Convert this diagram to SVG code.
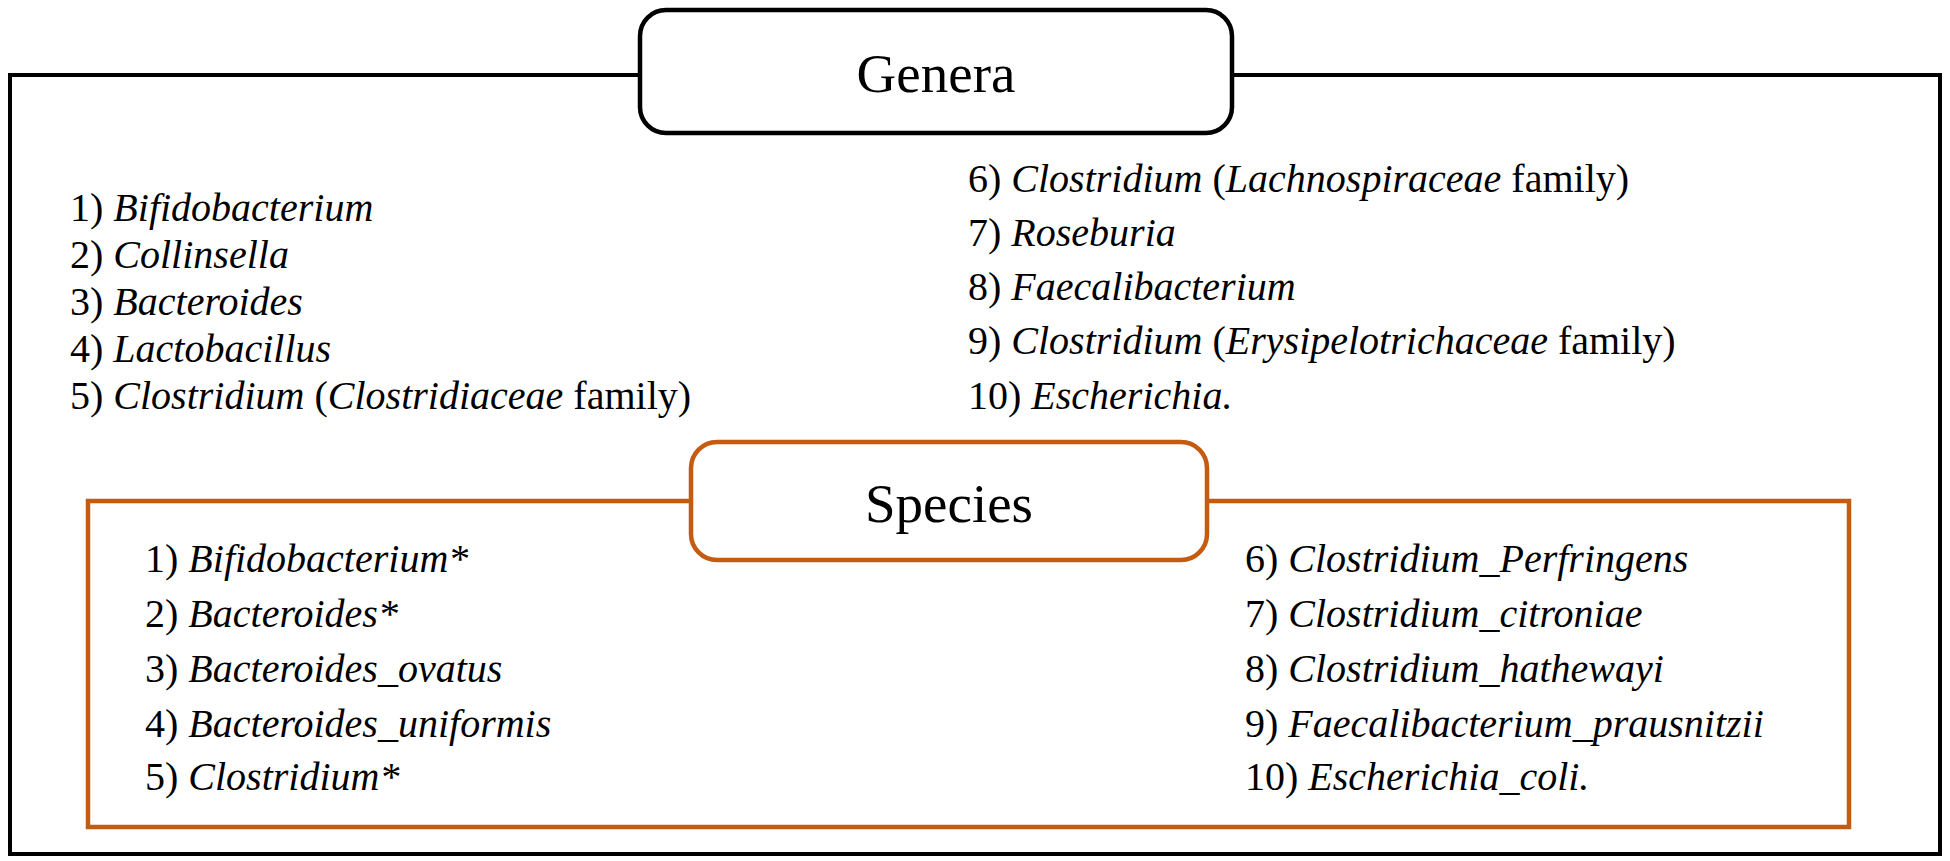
<svg xmlns="http://www.w3.org/2000/svg" width="1950" height="861" viewBox="0 0 1950 861" font-family="'Liberation Serif', 'DejaVu Serif', serif">
<style>
.frame{fill:none;stroke:#000;stroke-width:4}
.oframe{fill:none;stroke:#C55A11;stroke-width:4.5}
.hbox{fill:#fff;stroke:#000;stroke-width:4.5}
.obox{fill:#fff;stroke:#C55A11;stroke-width:4.5}
.h{font-size:55px;text-anchor:middle;fill:#000}
.t{font-size:40px;fill:#000}
.i{font-style:italic}
</style>
<rect width="1950" height="861" fill="#fff"/>
<g id="connectors">
<rect class="frame" x="10" y="75" width="1930" height="779"/>
<rect class="oframe" x="88" y="501" width="1761" height="326"/>
</g>
<g id="genera">
<rect class="hbox" x="640" y="10" width="592" height="123" rx="26"/>
<text class="h" x="936" y="92" font-family="'Liberation Serif', 'DejaVu Serif', serif">Genera</text>
</g>
<g id="genera-list-left" font-family="'Liberation Serif', 'DejaVu Serif', serif">
<text class="t" x="70" y="221">1) <tspan class="i">Bifidobacterium</tspan></text>
<text class="t" x="70" y="268">2) <tspan class="i">Collinsella</tspan></text>
<text class="t" x="70" y="315">3) <tspan class="i">Bacteroides</tspan></text>
<text class="t" x="70" y="362">4) <tspan class="i">Lactobacillus</tspan></text>
<text class="t" x="70" y="409">5) <tspan class="i">Clostridium</tspan> (<tspan class="i">Clostridiaceae</tspan> family)</text>
</g>
<g id="genera-list-right" font-family="'Liberation Serif', 'DejaVu Serif', serif">
<text class="t" x="968" y="192">6) <tspan class="i">Clostridium</tspan> (<tspan class="i">Lachnospiraceae</tspan> family)</text>
<text class="t" x="968" y="246">7) <tspan class="i">Roseburia</tspan></text>
<text class="t" x="968" y="300">8) <tspan class="i">Faecalibacterium</tspan></text>
<text class="t" x="968" y="354">9) <tspan class="i">Clostridium</tspan> (<tspan class="i">Erysipelotrichaceae</tspan> family)</text>
<text class="t" x="968" y="409">10) <tspan class="i">Escherichia.</tspan></text>
</g>
<g id="species">
<rect class="obox" x="691" y="442" width="516" height="118" rx="26"/>
<text class="h" x="949" y="522" font-family="'Liberation Serif', 'DejaVu Serif', serif">Species</text>
</g>
<g id="species-list-left" font-family="'Liberation Serif', 'DejaVu Serif', serif">
<text class="t" x="145" y="572">1) <tspan class="i">Bifidobacterium*</tspan></text>
<text class="t" x="145" y="627">2) <tspan class="i">Bacteroides*</tspan></text>
<text class="t" x="145" y="682">3) <tspan class="i">Bacteroides_ovatus</tspan></text>
<text class="t" x="145" y="737">4) <tspan class="i">Bacteroides_uniformis</tspan></text>
<text class="t" x="145" y="790">5) <tspan class="i">Clostridium*</tspan></text>
</g>
<g id="species-list-right" font-family="'Liberation Serif', 'DejaVu Serif', serif">
<text class="t" x="1245" y="572">6) <tspan class="i">Clostridium_Perfringens</tspan></text>
<text class="t" x="1245" y="627">7) <tspan class="i">Clostridium_citroniae</tspan></text>
<text class="t" x="1245" y="682">8) <tspan class="i">Clostridium_hathewayi</tspan></text>
<text class="t" x="1245" y="737">9) <tspan class="i">Faecalibacterium_prausnitzii</tspan></text>
<text class="t" x="1245" y="790">10) <tspan class="i">Escherichia_coli.</tspan></text>
</g>
</svg>
